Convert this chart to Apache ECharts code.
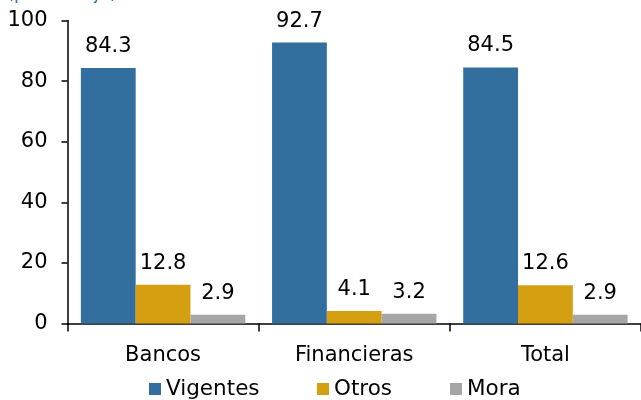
<!DOCTYPE html>
<html><head><meta charset="utf-8">
<script src="https://cdn.jsdelivr.net/npm/echarts@6/dist/echarts.min.js"></script>
<style>html,body{margin:0;padding:0;background:#fff}#c{width:641px;height:400px}</style>
</head><body><div id="c"></div>
<script>
const categories = ['Bancos', 'Financieras', 'Total'];
const vigentes = [84.3, 92.7, 84.5];
const otros = [12.8, 4.1, 12.6];
const mora = [2.9, 3.2, 2.9];
const yTicks = [0, 20, 40, 60, 80, 100];
const seriesNames = ['Vigentes', 'Otros', 'Mora'];

const font = 'DejaVu Sans';
const lbl = {show: true, position: 'top', color: '#000', fontSize: 21, fontFamily: font, distance: 11, formatter: p => p.value.toFixed(1)};
const legendLefts = [149, 317, 450];
const chart = echarts.init(document.getElementById('c'), null, {renderer: 'canvas'});
chart.setOption({
  animation: false,
  title: {text: '(porcentaje)', left: 2, top: -20, textStyle: {color: '#2e75b6', fontSize: 18, fontFamily: font, fontWeight: 'normal'}},
  grid: {left: 67.5, right: -1.5, top: 20.5, bottom: 76.5, containLabel: false},
  legend: seriesNames.map((n, i) => ({
    data: [n], top: 378, left: legendLefts[i], itemWidth: 12, itemHeight: 12, padding: 0,
    icon: 'rect', textStyle: {fontSize: 21.5, lineHeight: 22, fontFamily: font, color: '#000', padding: [0,0,0,0]}
  })),
  xAxis: {
    type: 'category', data: categories,
    axisLine: {lineStyle: {color: '#000', width: 1.5}},
    axisTick: {show: true, length: 8, lineStyle: {color: '#000', width: 1.5}},
    axisLabel: {fontSize: 21, fontFamily: font, color: '#000', margin: 22}
  },
  yAxis: {
    type: 'value', min: yTicks[0], max: yTicks[yTicks.length-1], interval: 20,
    axisLine: {show: true, lineStyle: {color: '#000', width: 1.5}},
    axisTick: {show: true, inside: false, length: 6, lineStyle: {color: '#000', width: 1.5}},
    splitLine: {show: false},
    axisLabel: {fontSize: 21, fontFamily: font, color: '#000', margin: 20}
  },
  series: [
    {name: 'Vigentes', type: 'bar', data: vigentes, itemStyle: {color: '#336f9e'}, barGap: '0%', barCategoryGap: '14%', label: lbl},
    {name: 'Otros', type: 'bar', data: otros, itemStyle: {color: '#d4a012'}, label: lbl},
    {name: 'Mora', type: 'bar', data: mora, itemStyle: {color: '#a6a6a6'}, label: lbl}
  ]
});
</script></body></html>
